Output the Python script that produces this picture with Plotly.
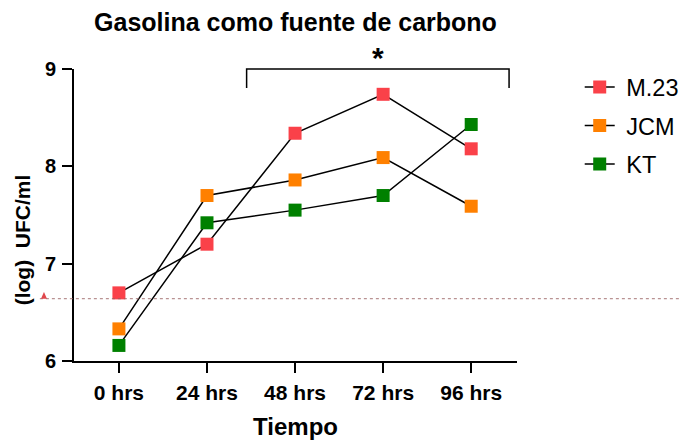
import plotly.graph_objects as go

categories = ["0 hrs", "24 hrs", "48 hrs", "72 hrs", "96 hrs"]
m23 = [6.70, 7.20, 8.34, 8.74, 8.18]
jcm = [6.33, 7.70, 7.86, 8.09, 7.59]
kt = [6.16, 7.42, 7.55, 7.70, 8.43]
threshold = 6.64
series_names = ["M.23", "JCM", "KT"]
colors = ["#FA4149", "#FF8000", "#008000"]

FONT = "Liberation Sans, Arial, sans-serif"
xpos = list(range(len(categories)))

fig = go.Figure()
for name, vals, col in zip(series_names, [m23, jcm, kt], colors):
    fig.add_trace(go.Scatter(
        x=xpos, y=vals, name="\u00a0" + name, mode="lines+markers", legendgroup=name,
        line=dict(color="black", width=1.5),
        marker=dict(symbol="square", size=13, color=col, line=dict(width=0)),
        cliponaxis=False,
    ))

fig.add_shape(type="line", xref="paper", yref="y", x0=-0.077, x1=1.6,
              y0=threshold, y1=threshold,
              line=dict(color="rgba(150,95,95,0.85)", width=1, dash="dot"))
# small threshold triangle left of the axis
fig.add_shape(type="path", xref="paper", yref="y",
              path=f"M -0.0745,{threshold} L -0.0610,{threshold} L -0.0678,{threshold + 0.07} Z",
              fillcolor="#E0474C", line=dict(width=0))

# significance bracket
fig.add_shape(type="path", xref="x", yref="paper",
              path="M 1.45,0.935 L 1.45,1.0 L 4.43,1.0 L 4.43,0.935",
              line=dict(color="black", width=1.5))
fig.add_annotation(x=2.94, y=0.975, xref="x", yref="paper", yanchor="bottom", text="<b>*</b>",
                   showarrow=False, font=dict(family=FONT, size=30, color="black"))

# y-axis title (placed lower than centre, as in the reference)
fig.add_annotation(x=-0.117, y=0.414, xref="paper", yref="paper", text="<b>(log)  UFC/ml</b>",
                   textangle=-90, showarrow=False, xanchor="center", yanchor="middle",
                   font=dict(family=FONT, size=21, color="black"))

fig.update_layout(
    width=679, height=433, autosize=False,
    margin=dict(l=66, r=170, t=61, b=80),
    plot_bgcolor="white", paper_bgcolor="white",
    title=dict(text="<b>Gasolina como fuente de carbono</b>", x=0.4234, xanchor="center",
               y=0.968, yanchor="middle",
               font=dict(family=FONT, size=25, color="black")),
    legend=dict(x=0.842, y=0.868, xref="container", yref="container",
                xanchor="left", yanchor="top",
                font=dict(family=FONT, size=23.5, color="black"),
                tracegroupgap=5, bgcolor="rgba(0,0,0,0)"),
    xaxis=dict(range=[-0.51, 4.52], tickvals=xpos, ticktext=[f"<b>{c}</b>" for c in categories],
               showline=True, linecolor="black", linewidth=2, showgrid=False, zeroline=False,
               ticks="outside", ticklen=10, tickwidth=2, tickcolor="black", automargin=False,
               tickfont=dict(family=FONT, size=21, color="black"), ticklabelstandoff=2,
               title=dict(text="<b>Tiempo</b>", font=dict(family=FONT, size=24, color="black"),
                          standoff=15)),
    yaxis=dict(range=[6, 9], tickvals=[6, 7, 8, 9], ticktext=["<b>6</b>", "<b>7</b>", "<b>8</b>", "<b>9</b>"],
               showline=True, linecolor="black", linewidth=2, showgrid=False, zeroline=False,
               ticks="outside", ticklen=10, tickwidth=2, tickcolor="black", automargin=False,
               tickfont=dict(family=FONT, size=20, color="black"), ticklabelstandoff=2),
)

fig.write_html("out.html")
